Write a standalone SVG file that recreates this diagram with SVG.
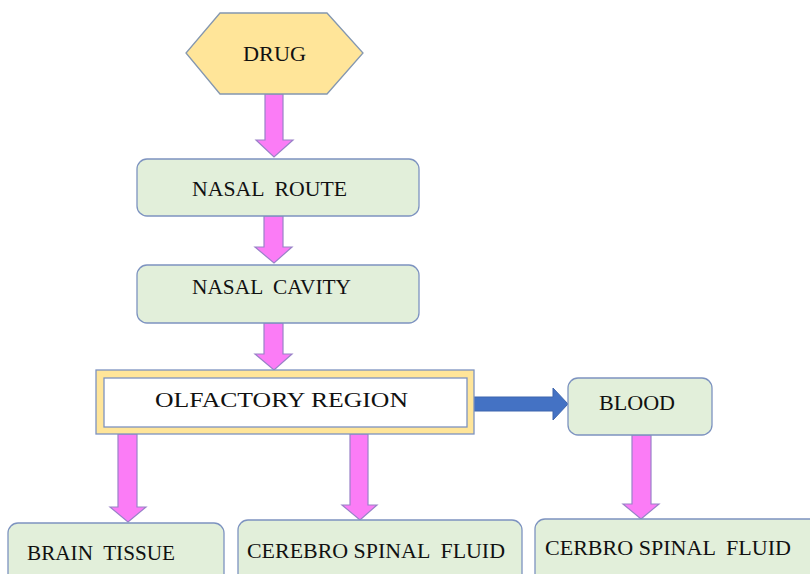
<svg xmlns="http://www.w3.org/2000/svg" width="810" height="574" viewBox="0 0 810 574">
  <style>
    .box { fill: #e2efda; stroke: #7d93c0; stroke-width: 1.3; }
    .lbl { font-family: "Liberation Serif", "Times New Roman", serif; font-size: 20.5px; fill: #111; white-space: pre; }
    .down { fill: #fb7cf6; stroke: #9a82c8; stroke-width: 1.2; }
    .side { fill: #4472c4; stroke: #3d65ad; stroke-width: 1; }
  </style>
  <rect width="810" height="574" fill="#ffffff"/>

  <!-- connectors: block arrows -->
  <g id="connectors">
    <polygon class="down" points="265,94 283,94 283,140 293,140 274,157 256,140 265,140"/>
    <polygon class="down" points="264,216 283,216 283,247 292,247 274,263 255,247 264,247"/>
    <polygon class="down" points="264,323 283,323 283,354 292,354 274,370 255,354 264,354"/>
    <polygon class="down" points="118,434 137,434 137,507 146,507 128,522 110,507 118,507"/>
    <polygon class="down" points="350,434 368,434 368,505 377,505 360,520 342,505 350,505"/>
    <polygon class="down" points="632,435 651,435 651,504 659,504 641,519 623,504 632,504"/>
    <polygon class="side" points="474,397 553,397 553,388 568,404 553,420 553,411 474,411"/>
  </g>

  <g id="drug">
    <polygon points="220,13 327,13 363,53 327,94 220,94 186,53" fill="#ffe599" stroke="#8497b0" stroke-width="1.3"/>
    <text class="lbl" x="243" y="61" textLength="63" lengthAdjust="spacingAndGlyphs">DRUG</text>
  </g>

  <g id="nasal-route">
    <rect class="box" x="137" y="159" width="282" height="57" rx="10"/>
    <text class="lbl" x="192" y="196" textLength="155" lengthAdjust="spacingAndGlyphs" xml:space="preserve">NASAL  ROUTE</text>
  </g>

  <g id="nasal-cavity">
    <rect class="box" x="137" y="265" width="282" height="58" rx="10"/>
    <text class="lbl" x="192" y="294" textLength="159" lengthAdjust="spacingAndGlyphs" xml:space="preserve">NASAL  CAVITY</text>
  </g>

  <g id="olfactory-region">
    <rect x="96" y="370" width="378" height="64" fill="#ffe599" stroke="#7d93c0" stroke-width="1.3"/>
    <rect x="104" y="378" width="363" height="49" fill="#ffffff" stroke="#7d93c0" stroke-width="1.3"/>
    <text class="lbl" x="155" y="407" textLength="253" lengthAdjust="spacingAndGlyphs" style="font-size:22px">OLFACTORY REGION</text>
  </g>

  <g id="blood">
    <rect class="box" x="568" y="378" width="144" height="57" rx="10"/>
    <text class="lbl" x="599" y="410" textLength="76" lengthAdjust="spacingAndGlyphs">BLOOD</text>
  </g>

  <g id="brain-tissue">
    <rect class="box" x="8" y="523" width="216" height="70" rx="10"/>
    <text class="lbl" x="27" y="560" textLength="148" lengthAdjust="spacingAndGlyphs" xml:space="preserve">BRAIN  TISSUE</text>
  </g>

  <g id="cerebro-spinal-fluid">
    <rect class="box" x="238" y="520" width="284" height="73" rx="10"/>
    <text class="lbl" x="247" y="558" textLength="258" lengthAdjust="spacingAndGlyphs" xml:space="preserve">CEREBRO SPINAL  FLUID</text>
  </g>

  <g id="cerbro-spinal-fluid">
    <rect class="box" x="535" y="519" width="290" height="74" rx="10"/>
    <text class="lbl" x="545" y="555" textLength="246" lengthAdjust="spacingAndGlyphs" xml:space="preserve">CERBRO SPINAL  FLUID</text>
  </g>
</svg>
